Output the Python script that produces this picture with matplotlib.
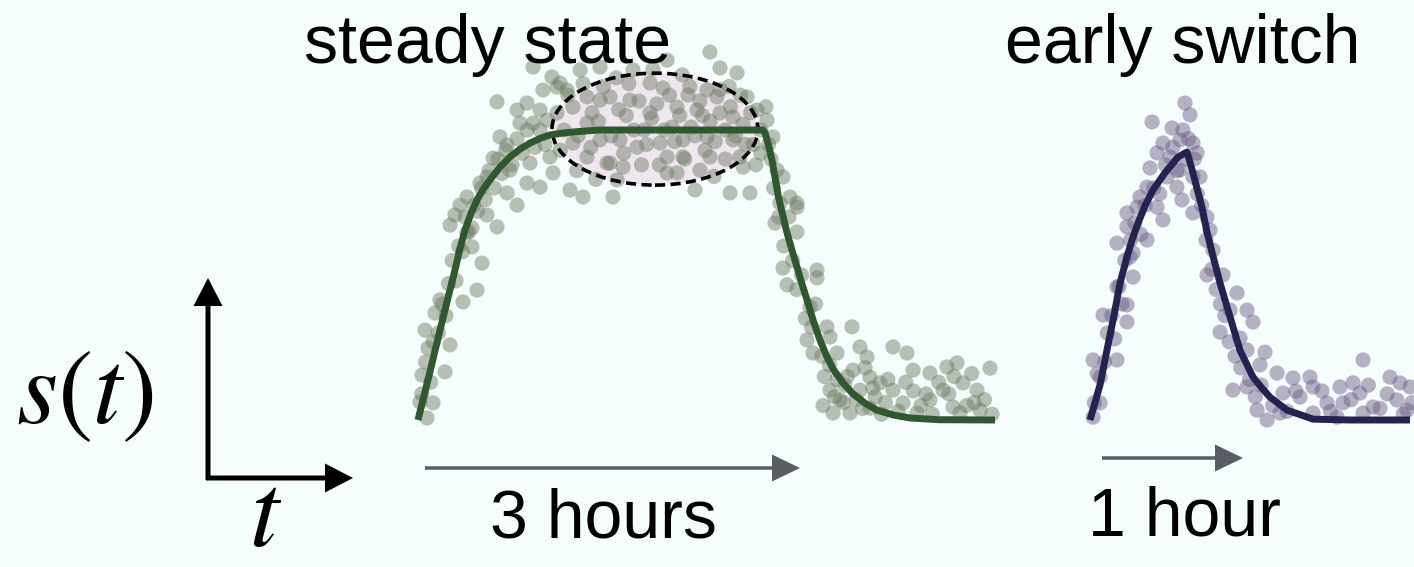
import matplotlib
matplotlib.use("Agg")
import matplotlib.pyplot as plt
from matplotlib.patches import Ellipse

# ---------------- data ----------------
# steady state panel: time in hours, signal normalised to plateau
t_steady_curve = [0, 0.047, 0.094, 0.141, 0.189, 0.240, 0.291, 0.330, 0.370, 0.417, 0.465, 0.515, 0.567,
                  0.645, 0.724, 0.803, 0.882, 0.960, 1.039, 1.130, 1.220, 1.330, 1.433,
                  2.717, 2.733, 2.748, 2.767, 2.787, 2.810, 2.835, 2.870, 2.906, 2.945, 2.984, 3.023,
                  3.063, 3.114, 3.165, 3.216, 3.268, 3.346, 3.425, 3.520, 3.614, 3.744, 3.874, 4.100, 4.543]
s_steady_curve = [0, 0.083, 0.166, 0.252, 0.338, 0.428, 0.517, 0.590, 0.655, 0.712, 0.759, 0.797, 0.828,
                  0.872, 0.907, 0.934, 0.955, 0.971, 0.983, 0.989, 0.993, 0.997, 1.0,
                  1.0, 0.990, 0.966, 0.935, 0.897, 0.840, 0.776, 0.710, 0.645, 0.585, 0.528, 0.470,
                  0.414, 0.340, 0.276, 0.222, 0.176, 0.128, 0.090, 0.058, 0.034, 0.017, 0.007, 0.001, 0]

t_steady_pts = [
    0.252, 0.386, 0.622, 0.504, 0.425, 0.465, 0.354, 0.173, 0.134, 0.055, 0.252, 0.079, 0.213, 0.031, 0.118, 0.016, 0.071,
    0.622, 0.646, 0.701, 0.591, 0.543, 0.386, 0.488, 0.701, 0.780, 0.858, 0.961, 0.882, 0.780, 0.858, 0.961, 1.016,
    0.906, 0.803, 0.984, 0.906, 1.055, 1.094, 1.173, 1.197, 1.299, 1.535, 1.039, 0.724, 1.063, 0.331, 0.291, 0.543, 0.425,
    0.03, 0.06, 0.10, 0.12, 0.16, 0.19, 0.22, 0.24, 0.27, 0.30, 0.32, 0.35, 0.37, 0.40, 0.44, 0.47, 0.50, 0.53,
    0.56, 0.60, 0.63, 0.66, 0.69, 0.74, 0.78, 0.82, 0.86, 0.92, 0.96, 1.00,
    2.299, 2.378, 2.512, 1.961, 1.693, 1.827, 1.929, 2.126, 2.276, 2.354, 2.591, 2.669, 2.748, 2.795, 2.039, 2.197,
    2.378, 1.669, 1.512, 1.827, 2.480, 1.591, 1.724, 1.906, 2.087, 2.276, 2.480, 1.512, 1.614, 1.961, 2.087, 2.299,
    2.535, 1.961, 2.039, 2.220, 2.559, 2.181, 2.457, 2.614, 2.827, 2.874, 2.929, 2.984, 1.331, 1.220, 1.433, 1.331,
    1.433, 1.331, 1.488, 1.220, 1.094, 1.118, 1.276, 1.433, 1.567,
    1.150, 1.370, 1.640, 1.780, 1.880, 2.000, 2.150, 2.240, 2.420, 2.560, 2.640, 1.760, 2.330, 1.850, 2.080, 2.450,
    1.560, 2.700, 1.250, 1.400,
    1.12, 1.18, 1.26, 1.30, 1.36, 1.42, 1.46, 1.52, 1.58, 1.62, 1.66, 1.70, 1.74, 1.80, 1.84, 1.90, 1.94, 1.98,
    2.02, 2.06, 2.10, 2.14, 2.18, 2.22, 2.26, 2.30, 2.34, 2.38, 2.42, 2.46, 2.50, 2.54, 2.58, 2.62, 2.66, 2.70,
    2.74, 2.76,
    2.850, 2.984, 2.811, 2.984, 2.874, 3.142, 3.142, 2.906, 3.087, 3.220, 3.417, 3.063, 3.244, 3.110, 3.299, 3.480,
    3.535, 3.740, 3.850, 3.425, 3.559, 3.638, 3.898, 4.031, 4.165, 4.244, 4.504, 3.244, 3.480, 3.740, 4.031, 4.134,
    4.291, 4.402, 3.323, 3.819, 4.213, 3.268, 3.402, 3.559, 4.268, 4.425, 3.929,
    2.78, 2.80, 2.84, 2.88, 2.92, 2.95, 2.98, 3.02, 3.05, 3.10, 3.13, 3.18, 3.20, 3.24, 3.30, 3.35, 3.38, 3.45,
    3.50, 3.60, 3.65, 3.70, 3.78, 3.90, 3.96, 4.05, 4.10, 4.18, 4.32, 4.36, 4.46, 4.52,
    3.19, 3.36, 3.52, 3.68, 3.84, 4.00, 4.22, 4.38, 3.58, 3.28]
s_steady_pts = [
    0.672, 0.645, 0.666, 0.541, 0.597, 0.448, 0.407, 0.414, 0.369, 0.310, 0.259, 0.248, 0.166, 0.155, 0.059, 0.062, 0.007,
    1.097, 0.976, 0.948, 0.903, 0.838, 0.769, 0.817, 0.783, 0.741, 0.817, 0.803, 0.886, 1.069, 1.093, 1.069, 1.034,
    1.024, 1.024, 1.138, 1.217, 1.183, 1.148, 1.138, 0.793, 0.769, 0.769, 0.907, 0.862, 0.852, 0.741, 0.707, 0.707, 0.662,
    0.09, 0.20, 0.13, 0.27, 0.30, 0.40, 0.36, 0.47, 0.55, 0.48, 0.60, 0.58, 0.70, 0.65, 0.74, 0.72, 0.80, 0.76,
    0.86, 0.80, 0.90, 0.85, 0.93, 0.88, 0.97, 0.92, 1.00, 0.94, 1.00, 0.95,
    1.269, 1.214, 1.197, 1.241, 1.207, 1.162, 1.145, 1.121, 1.138, 1.114, 1.114, 1.069, 1.034, 0.976, 1.079, 1.069,
    1.059, 1.103, 1.114, 1.059, 1.045, 0.966, 0.941, 0.955, 0.966, 0.976, 0.966, 0.886, 0.872, 0.907, 0.907, 0.907,
    0.907, 0.852, 0.852, 0.862, 0.872, 0.793, 0.783, 0.783, 0.862, 0.838, 0.769, 0.748, 1.114, 1.079, 1.103, 1.024,
    0.966, 0.907, 0.886, 0.955, 1.059, 1.162, 1.207, 1.217, 0.828,
    1.000, 1.060, 1.050, 1.000, 1.090, 1.010, 1.010, 1.050, 1.000, 1.020, 0.950, 0.880, 0.840, 1.210, 1.190, 1.150,
    1.180, 0.920, 0.860, 0.830,
    0.93, 1.12, 0.98, 1.16, 0.94, 1.03, 1.15, 0.98, 1.07, 0.92, 1.16, 1.00, 1.10, 0.95, 1.04, 0.88, 1.00, 1.12,
    0.96, 1.05, 0.90, 1.15, 0.98, 1.10, 0.93, 1.03, 0.96, 1.14, 0.90, 1.08, 0.98, 1.12, 0.95, 1.06, 0.88, 1.00,
    1.08, 0.95,
    0.748, 0.734, 0.679, 0.648, 0.524, 0.517, 0.490, 0.466, 0.390, 0.321, 0.321, 0.276, 0.286, 0.231, 0.231, 0.252,
    0.217, 0.252, 0.231, 0.172, 0.148, 0.128, 0.172, 0.162, 0.183, 0.197, 0.179, 0.103, 0.103, 0.103, 0.069, 0.103,
    0.128, 0.103, 0.069, 0.059, 0.045, 0.024, 0.024, 0.041, 0.024, 0.034, 0.024,
    0.90, 0.80, 0.70, 0.60, 0.70, 0.55, 0.45, 0.50, 0.35, 0.32, 0.40, 0.22, 0.15, 0.19, 0.14, 0.06, 0.15, 0.07,
    0.04, 0.08, 0.02, 0.14, 0.03, 0.10, 0.05, 0.02, 0.13, 0.09, 0.05, 0.16, 0.07, 0.02,
    0.05, 0.12, 0.18, 0.06, 0.13, 0.09, 0.15, 0.06, 0.11, 0.08]

# early switch panel
t_early_curve = [0, 0.069, 0.117, 0.166, 0.207, 0.255, 0.290, 0.331, 0.379, 0.434, 0.517, 0.607, 0.669,
                 0.710, 0.772, 0.807, 0.841, 0.897, 0.966, 1.034, 1.124, 1.186, 1.241, 1.359, 1.538, 1.793, 2.207]
s_early_curve = [0, 0.121, 0.241, 0.362, 0.472, 0.562, 0.621, 0.679, 0.738, 0.793, 0.852, 0.907, 0.924,
                 0.852, 0.734, 0.648, 0.579, 0.472, 0.355, 0.241, 0.148, 0.110, 0.079, 0.034, 0.003, 0, 0]

t_early_pts = [
    0.655, 0.690, 0.428, 0.566, 0.641, 0.621, 0.710, 0.503, 0.462, 0.552, 0.738, 0.414, 0.531, 0.621, 0.710, 0.759,
    0.600, 0.393, 0.634, 0.345, 0.324, 0.462, 0.255, 0.503, 0.255, 0.807, 0.828, 0.186, 0.393, 0.848, 0.297, 0.710,
    0.276, 0.297, 0.186, 0.255, 0.090, 0.255, 0.186, 0.021, 0.069, 0.069, 0.021,
    0.807, 0.917, 1.014, 0.966, 1.083, 1.124, 0.897, 1.034, 1.083, 1.207, 1.172, 1.290, 0.986, 1.083, 1.400, 1.517,
    1.538, 1.331, 1.448, 1.883, 1.724, 1.814, 1.862, 2.069, 2.138, 2.207, 1.152, 1.221, 1.310, 1.634, 1.745, 1.952,
    2.117, 1.538, 1.703, 2.186, 1.883,
    0.03, 0.05, 0.10, 0.12, 0.15, 0.17, 0.20, 0.22, 0.24, 0.28, 0.31, 0.35, 0.38, 0.44, 0.48, 0.52, 0.57, 0.60,
    0.66, 0.68, 0.72, 0.74, 0.77, 0.80, 0.84, 0.87, 0.90, 0.93, 0.96, 1.00, 1.04, 1.10, 1.14, 1.18, 1.26, 1.36,
    1.42, 1.60, 1.66, 1.80, 1.92, 2.00, 2.05, 2.16, 2.22]
s_early_pts = [
    1.093, 1.052, 1.028, 1.007, 1.000, 0.966, 0.955, 0.955, 0.921, 0.907, 0.921, 0.869, 0.838, 0.862, 0.838, 0.838,
    0.803, 0.803, 0.759, 0.769, 0.734, 0.734, 0.714, 0.690, 0.666, 0.700, 0.655, 0.610, 0.621, 0.586, 0.576, 0.714,
    0.562, 0.493, 0.459, 0.397, 0.362, 0.338, 0.207, 0.207, 0.148, 0.059, 0.010,
    0.500, 0.500, 0.438, 0.379, 0.379, 0.338, 0.303, 0.283, 0.241, 0.234, 0.190, 0.162, 0.103, 0.114, 0.145, 0.148,
    0.114, 0.093, 0.079, 0.207, 0.114, 0.128, 0.093, 0.148, 0.128, 0.114, 0.034, 0.000, 0.024, 0.059, 0.059, 0.045,
    0.069, 0.024, 0.010, 0.034, 0.024,
    0.06, 0.16, 0.20, 0.30, 0.36, 0.28, 0.46, 0.40, 0.55, 0.62, 0.68, 0.64, 0.74, 0.80, 0.78, 0.88, 0.94, 0.86,
    0.90, 0.97, 0.90, 0.78, 0.74, 0.62, 0.52, 0.45, 0.40, 0.36, 0.27, 0.22, 0.18, 0.14, 0.08, 0.12, 0.05, 0.03,
    0.10, 0.10, 0.03, 0.07, 0.12, 0.04, 0.09, 0.02, 0.06]

# steady-state region highlighted by the dashed ellipse (hours, signal)
ellipse_center = (1.866, 1.003)
ellipse_size = (1.622, 0.386)

titles = ["steady state", "early switch"]
durations = ["3 hours", "1 hour"]

# ---------------- styling ----------------
BG = "#f6fdfd"
GREEN = "#2f5830"
GREEN_PTS = "#6f7d66"
NAVY = "#24224f"
PURPLE_PTS = "#6c5f86"
ARROW_GRAY = "#585d64"

plt.rcParams["mathtext.fontset"] = "stix"
W, H = 1414, 567
fig = plt.figure(figsize=(W / 100, H / 100), dpi=100, facecolor=BG)

# overlay axes in pixel coordinates for annotations
ov = fig.add_axes([0, 0, 1, 1], facecolor="none", zorder=5)
ov.set_xlim(0, W)
ov.set_ylim(H, 0)
ov.axis("off")


def panel(px0, px1, t_origin_px, px_per_hour):
    py_top, py_bot = 30, 440
    base_py, px_per_unit = 420, 290
    ax = fig.add_axes([px0 / W, (H - py_bot) / H, (px1 - px0) / W, (py_bot - py_top) / H])
    ax.set_xlim((px0 - t_origin_px) / px_per_hour, (px1 - t_origin_px) / px_per_hour)
    ax.set_ylim((base_py - py_bot) / px_per_unit, (base_py - py_top) / px_per_unit)
    ax.axis("off")
    ax.patch.set_alpha(0)
    return ax


ax1 = panel(400, 1010, 418, 127)
ax2 = panel(1075, 1414, 1090, 145)

ell_fill = Ellipse(ellipse_center, ellipse_size[0], ellipse_size[1], facecolor="#f0e6f0",
                   edgecolor="none", zorder=1)
ax1.add_patch(ell_fill)
ax1.scatter(t_steady_pts, s_steady_pts, s=120, color=GREEN_PTS, alpha=0.48, edgecolors="none", zorder=2)
ell_edge = Ellipse(ellipse_center, ellipse_size[0], ellipse_size[1], facecolor="none",
                   edgecolor="black", lw=2.6, linestyle=(0, (2.8, 1.5)), zorder=3)
ax1.add_patch(ell_edge)
ax1.plot(t_steady_curve, s_steady_curve, color=GREEN, lw=5, solid_joinstyle="round",
         solid_capstyle="butt", zorder=4)

ax2.scatter(t_early_pts, s_early_pts, s=120, color=PURPLE_PTS, alpha=0.48, edgecolors="none", zorder=2)
ax2.plot(t_early_curve, s_early_curve, color=NAVY, lw=5, solid_joinstyle="round",
         solid_capstyle="butt", zorder=4)

# titles
ov.text(488, 63, titles[0], fontsize=49, family="Liberation Sans", ha="center", va="baseline")
ov.text(1183, 63, titles[1], fontsize=49, family="Liberation Sans", ha="center", va="baseline")

# duration arrows
ov.arrow(425, 468, 375, 0, width=3.5, head_width=27, head_length=28, length_includes_head=True,
         color=ARROW_GRAY, lw=0)
ov.arrow(1102, 458, 141, 0, width=3.5, head_width=27, head_length=28, length_includes_head=True,
         color=ARROW_GRAY, lw=0)
ov.text(604, 537, durations[0], fontsize=49, family="Liberation Sans", ha="center", va="baseline")
ov.text(1184, 536, durations[1], fontsize=49, family="Liberation Sans", ha="center", va="baseline")

# schematic axes
ov.arrow(208, 480, 0, -202, width=5, head_width=29, head_length=28, length_includes_head=True,
         color="black", lw=0)
ov.arrow(206, 478, 147, 0, width=5, head_width=29, head_length=28, length_includes_head=True,
         color="black", lw=0)
ov.text(85, 423, r"$s(t)$", fontsize=76, ha="center", va="baseline")
ov.text(266, 546, r"$t$", fontsize=76, ha="center", va="baseline")

fig.savefig("out.png", dpi=100, facecolor=BG)
